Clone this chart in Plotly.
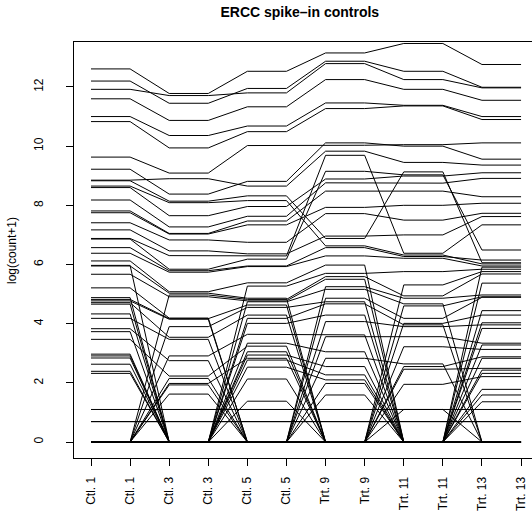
import plotly.graph_objects as go

# Tick labels (each sample appears twice, as in the original)
tick_labels = ["Ctl. 1", "Ctl. 1", "Ctl. 3", "Ctl. 3", "Ctl. 5", "Ctl. 5",
               "Trt. 9", "Trt. 9", "Trt. 11", "Trt. 11", "Trt. 13", "Trt. 13"]

# log(count+1) per ERCC control, one list per sample
ctl1 = [12.61, 12.20, 11.92, 11.60, 11.00, 10.83, 9.63, 9.22, 8.85, 8.83, 8.65, 8.60, 8.18, 7.81, 7.75, 7.41, 7.17, 6.88, 6.86, 6.57, 6.38,
        6.12, 5.97, 5.95, 0, 5.67, 5.21, 4.88, 4.82, 4.77, 0, 4.71, 4.66, 4.33, 4.18, 0, 3.83, 3.73, 3.47, 0, 2.97,
        2.91, 0, 2.84, 2.63, 0, 2.39, 0,
        2.32, 0, 1.10, 0, 0.69, 0.69, 0, 0, 0, 0, 0]
ctl3 = [11.78, 11.45, 11.71, 10.87, 10.36, 9.94, 9.09, 8.38, 8.90, 8.14, 8.09, 7.65, 7.27, 7.05, 7.03, 6.83, 6.46, 6.30, 5.84, 5.79, 5.74,
        5.08, 0, 5.03, 4.97, 4.91, 4.19, 0, 4.17, 4.15, 3.90, 3.54, 0, 0, 3.47, 2.91, 2.75, 0, 2.23, 2.15, 0,
        0, 1.98, 0, 0, 1.93, 0, 1.62,
        0, 0, 1.10, 0, 0.69, 0.69, 0, 0, 0, 0, 0]
ctl5 = [12.53, 11.95, 11.80, 11.33, 10.68, 10.49, 10.02, 8.81, 8.65, 8.32, 8.16, 7.96, 7.63, 7.47, 7.34, 6.75, 6.36, 6.29, 6.18, 5.95, 5.93,
        5.38, 5.27, 4.86, 4.82, 4.77, 0, 4.74, 4.63, 0, 4.55, 4.29, 4.18, 4.01, 0, 3.64, 0, 3.34, 3.24, 0, 3.05,
        2.94, 2.83, 2.77, 2.53, 0, 2.13, 0,
        1.38, 0, 1.09, 0, 0.69, 0.69, 0, 0, 0, 0, 0]
trt9 = [13.15, 12.87, 12.79, 12.25, 11.46, 11.27, 10.03, 10.11, 9.83, 6.88, 6.63, 8.89, 8.76, 8.48, 7.93, 7.72, 6.96, 9.69, 9.15, 6.57, 6.29,
        5.98, 5.70, 0, 5.59, 5.50, 5.25, 5.16, 0, 4.86, 4.74, 0, 4.67, 4.29, 4.07, 3.62, 3.56, 3.05, 0, 2.83, 0,
        2.55, 0, 2.27, 2.10, 1.98, 0, 1.59,
        0, 0, 1.10, 0, 0.69, 0.69, 0, 0, 0, 0, 0]
trt11 = [13.47, 12.53, 12.25, 11.92, 11.38, 11.36, 10.05, 10.00, 9.45, 9.13, 6.32, 8.99, 8.75, 8.48, 8.00, 7.50, 7.00, 6.38, 9.03, 6.27, 6.21,
         0, 5.76, 5.31, 4.94, 0, 4.86, 4.67, 4.60, 4.18, 0, 4.01, 3.96, 0, 3.90, 0, 3.56, 0, 3.22, 2.64, 2.55,
         0, 2.46, 0, 0, 0, 1.95, 0,
         1.10, 0, 1.10, 0, 0.69, 0.69, 0, 0, 0, 0, 0]
trt13 = [12.76, 11.99, 11.97, 11.55, 11.00, 10.90, 10.11, 9.56, 9.36, 6.06, 6.02, 9.10, 8.91, 8.29, 8.07, 7.73, 7.62, 7.34, 6.49, 6.15, 5.95,
         5.91, 5.84, 5.76, 5.68, 5.37, 4.97, 0, 4.91, 4.89, 4.44, 4.29, 0, 4.03, 3.96, 3.84, 3.34, 3.28, 3.13, 0, 2.88,
         2.83, 2.49, 2.43, 0, 2.32, 2.21, 1.78,
         0, 1.59, 1.10, 1.36, 0.69, 0.69, 0, 0, 0, 0, 0]

samples = [ctl1, ctl3, ctl5, trt9, trt11, trt13]
n = len(ctl1)
assert all(len(s) == n for s in samples)

xpos = list(range(1, len(tick_labels) + 1))
FONT = "Liberation Sans, Arial, Helvetica, sans-serif"

fig = go.Figure()
for i in range(n):
    yv = []
    for s in samples:
        yv += [s[i], s[i]]
    fig.add_trace(go.Scatter(x=xpos, y=yv, mode="lines",
                             line=dict(color="black", width=1),
                             showlegend=False, hoverinfo="skip"))

fig.update_layout(
    width=532, height=516,
    margin=dict(l=74, r=0, t=42, b=58),
    paper_bgcolor="white", plot_bgcolor="white",
    font=dict(family=FONT, size=12, color="black"),
    title=dict(text="<b>ERCC spike–in controls</b>", x=0.493, xref="paper",
               xanchor="center", y=1 - 12 / 516, yref="container", yanchor="middle",
               font=dict(size=14, family=FONT, color="black")),
    xaxis=dict(range=[0.565, 12.28], tickvals=xpos, ticktext=tick_labels,
               tickangle=-90, ticks="outside", ticklen=7, tickcolor="black",
               showline=True, linecolor="black", linewidth=1, mirror=True,
               showgrid=False, zeroline=False, ticklabelstandoff=6,
               tickfont=dict(size=12, family=FONT)),
    yaxis=dict(range=[-0.54, 13.52], tickvals=[0, 2, 4, 6, 8, 10, 12],
               tickangle=-90, ticks="outside", ticklen=7, tickcolor="black",
               showline=True, linecolor="black", linewidth=1, mirror=False,
               showgrid=False, zeroline=False, ticklabelstandoff=18,
               tickfont=dict(size=12, family=FONT)),
    annotations=[dict(text="log(count+1)", textangle=-90, xref="paper", yref="paper",
                      x=(12 - 74) / 458, y=0.5, xanchor="center", yanchor="middle",
                      showarrow=False, font=dict(size=12, family=FONT))],
)

fig.write_html("out.html")
